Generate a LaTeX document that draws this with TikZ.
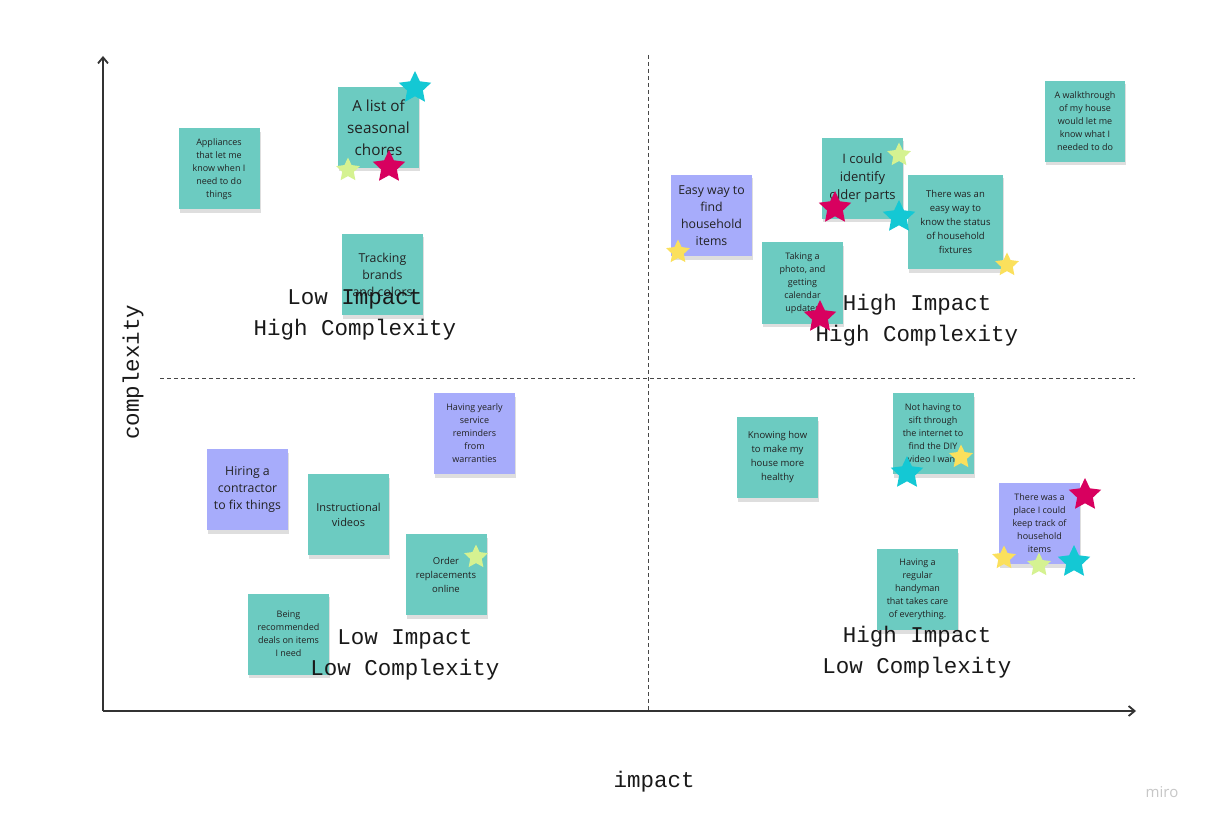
\documentclass[tikz,border=0pt]{standalone}
\usepackage{fontspec}
\usetikzlibrary{shapes.geometric,arrows.meta,shadows}
\newfontfamily\stickyfont{Open Sans}
\newfontfamily\labfont{Liberation Mono}
\definecolor{noteteal}{HTML}{6CCBC1}
\definecolor{notepurple}{HTML}{A7ACFB}
\definecolor{starmag}{HTML}{D8005F}
\definecolor{starcyan}{HTML}{14C8D4}
\definecolor{staryellow}{HTML}{FBE05C}
\definecolor{starlime}{HTML}{D5F291}
\definecolor{axisgray}{HTML}{333333}
\definecolor{notetext}{HTML}{222222}
\tikzset{
  sticky/.style={rectangle, minimum width=81pt, minimum height=81pt, inner sep=0pt,
    align=center, text=notetext, fill=noteteal,
    drop shadow={shadow xshift=1pt, shadow yshift=-3.5pt, opacity=0.13, fill=black}},
  purplenote/.style={sticky, fill=notepurple},
  fbig/.style={font=\stickyfont\fontsize{15.3}{22}\selectfont},
  fmed/.style={font=\stickyfont\fontsize{12.3}{17}\selectfont},
  fmid/.style={font=\stickyfont\fontsize{11}{15}\selectfont},
  fsmall/.style={font=\stickyfont\fontsize{9}{13}\selectfont},
  fsmalltwo/.style={font=\stickyfont\fontsize{9.5}{14}\selectfont},
  quadlabel/.style={align=center, text=black!90, font=\labfont\fontsize{22.5}{31}\selectfont},
  axislabel/.style={text=black!90, font=\labfont\fontsize{22.5}{27}\selectfont},
  axisline/.style={draw=axisgray, line width=1.8pt, -{Straight Barb[length=6pt,width=10pt]}},
  divider/.style={draw=axisgray!90, line width=0.8pt, dash pattern=on 4pt off 3pt},
  bigstar/.style={star, star points=5, star point ratio=2.05, minimum size=34pt, inner sep=0pt, draw=none},
  smallstar/.style={star, star points=5, star point ratio=2.05, minimum size=25pt, inner sep=0pt, draw=none},
}
\begin{document}
\begin{tikzpicture}[x=1pt,y=-1pt]
\useasboundingbox[fill=white] (0,0) rectangle (1209,826);

% dividers
\coordinate (vtop) at (648,55);
\coordinate (vbot) at (648,711);
\coordinate (hleft) at (160,378);
\coordinate (hright) at (1135,378);
\draw[divider] (vtop) -- (vbot);
\draw[divider] (hleft) -- (hright);

% axes
\coordinate (origin) at (103,711);
\coordinate (ytip) at (103,56);
\coordinate (xtip) at (1136,711);
\draw[axisline] (origin) -- (ytip);
\draw[axisline] (origin) -- (xtip);

% sticky notes
\node[sticky, fsmall] (n1) at (219,169) {Appliances\\that let me\\know when I\\need to do\\things};
\node[sticky, fbig] (n2) at (378.5,127.5) {A list of\\seasonal\\chores};
\node[sticky, fmed] (n3) at (382.5,274.5) {Tracking\\brands\\and colors};
\node[purplenote, fmed] (n4) at (711.5,215.5) {Easy way to\\find\\household\\items};
\node[sticky, font=\stickyfont\fontsize{13}{18}\selectfont] (n5) at (862.5,178.5) {I could\\identify\\older parts};
\node[sticky, fsmall] (n6) at (802.5,283) {Taking a\\photo, and\\getting\\calendar\\updates};
\node[sticky, fsmalltwo, minimum width=95pt, minimum height=94pt] (n7) at (955.5,222) {There was an\\easy way to\\know the status\\of household\\fixtures};
\node[sticky, fsmall, minimum width=80pt] (n8) at (1085,121.5) {A walkthrough\\of my house\\would let me\\know what I\\needed to do};
\node[purplenote, fmed] (n9) at (247.5,489.5) {Hiring a\\contractor\\to fix things};
\node[sticky, fmid] (n10) at (348.5,514.5) {Instructional\\videos};
\node[purplenote, fsmall] (n11) at (474.5,433.5) {Having yearly\\service\\reminders\\from\\warranties};
\node[sticky, fsmalltwo] (n12) at (446,574.5) {Order\\replacements\\online};
\node[sticky, fsmall] (n13) at (288.5,634) {Being\\recommended\\deals on items\\I need};
\node[sticky, fsmalltwo] (n14) at (777.5,457.5) {Knowing how\\to make my\\house more\\healthy};
\node[sticky, fsmall] (n15) at (933,433.5) {Not having to\\sift through\\the internet to\\find the DIY\\video I want};
\node[purplenote, fsmall] (n16) at (1039.5,523.5) {There was a\\place I could\\keep track of\\household\\items};
\node[sticky, fsmall] (n17) at (917.5,589.5) {Having a\\regular\\handyman\\that takes care\\of everything.};

% quadrant labels
\node[quadlabel] (q1) at (355,314.5) {Low Impact\\High Complexity};
\node[quadlabel] (q2) at (917,320) {High Impact\\High Complexity};
\node[quadlabel] (q3) at (405,654.5) {Low Impact\\Low Complexity};
\node[quadlabel] (q4) at (917,652.5) {High Impact\\Low Complexity};

% axis labels
\node[axislabel, rotate=90] (ylab) at (133,372) {complexity};
\node[axislabel] (xlab) at (654,782) {impact};
\node[text=black!22, font=\stickyfont\fontsize{15}{18}\selectfont] (miro) at (1162,792) {miro};

% stars
\node[bigstar, fill=starcyan] (s1) at (415,88) {};
\node[smallstar, fill=starlime] (s2) at (348,170) {};
\node[bigstar, fill=starmag] (s3) at (389,167) {};
\node[smallstar, fill=starlime] (s4) at (899,155) {};
\node[bigstar, fill=starmag] (s5) at (835,208) {};
\node[bigstar, fill=starcyan] (s6) at (899,217) {};
\node[smallstar, fill=staryellow] (s7) at (678,252) {};
\node[smallstar, fill=staryellow] (s8) at (1007,265) {};
\node[bigstar, fill=starmag] (s9) at (820,317) {};
\node[smallstar, fill=starlime] (s10) at (476,557) {};
\node[smallstar, fill=staryellow] (s11) at (961,457) {};
\node[bigstar, fill=starcyan] (s12) at (907,473) {};
\node[bigstar, fill=starmag] (s13) at (1085,495) {};
\node[smallstar, fill=staryellow] (s14) at (1004,558) {};
\node[smallstar, fill=starlime] (s15) at (1039,565) {};
\node[bigstar, fill=starcyan] (s16) at (1074,562) {};
\end{tikzpicture}
\end{document}
